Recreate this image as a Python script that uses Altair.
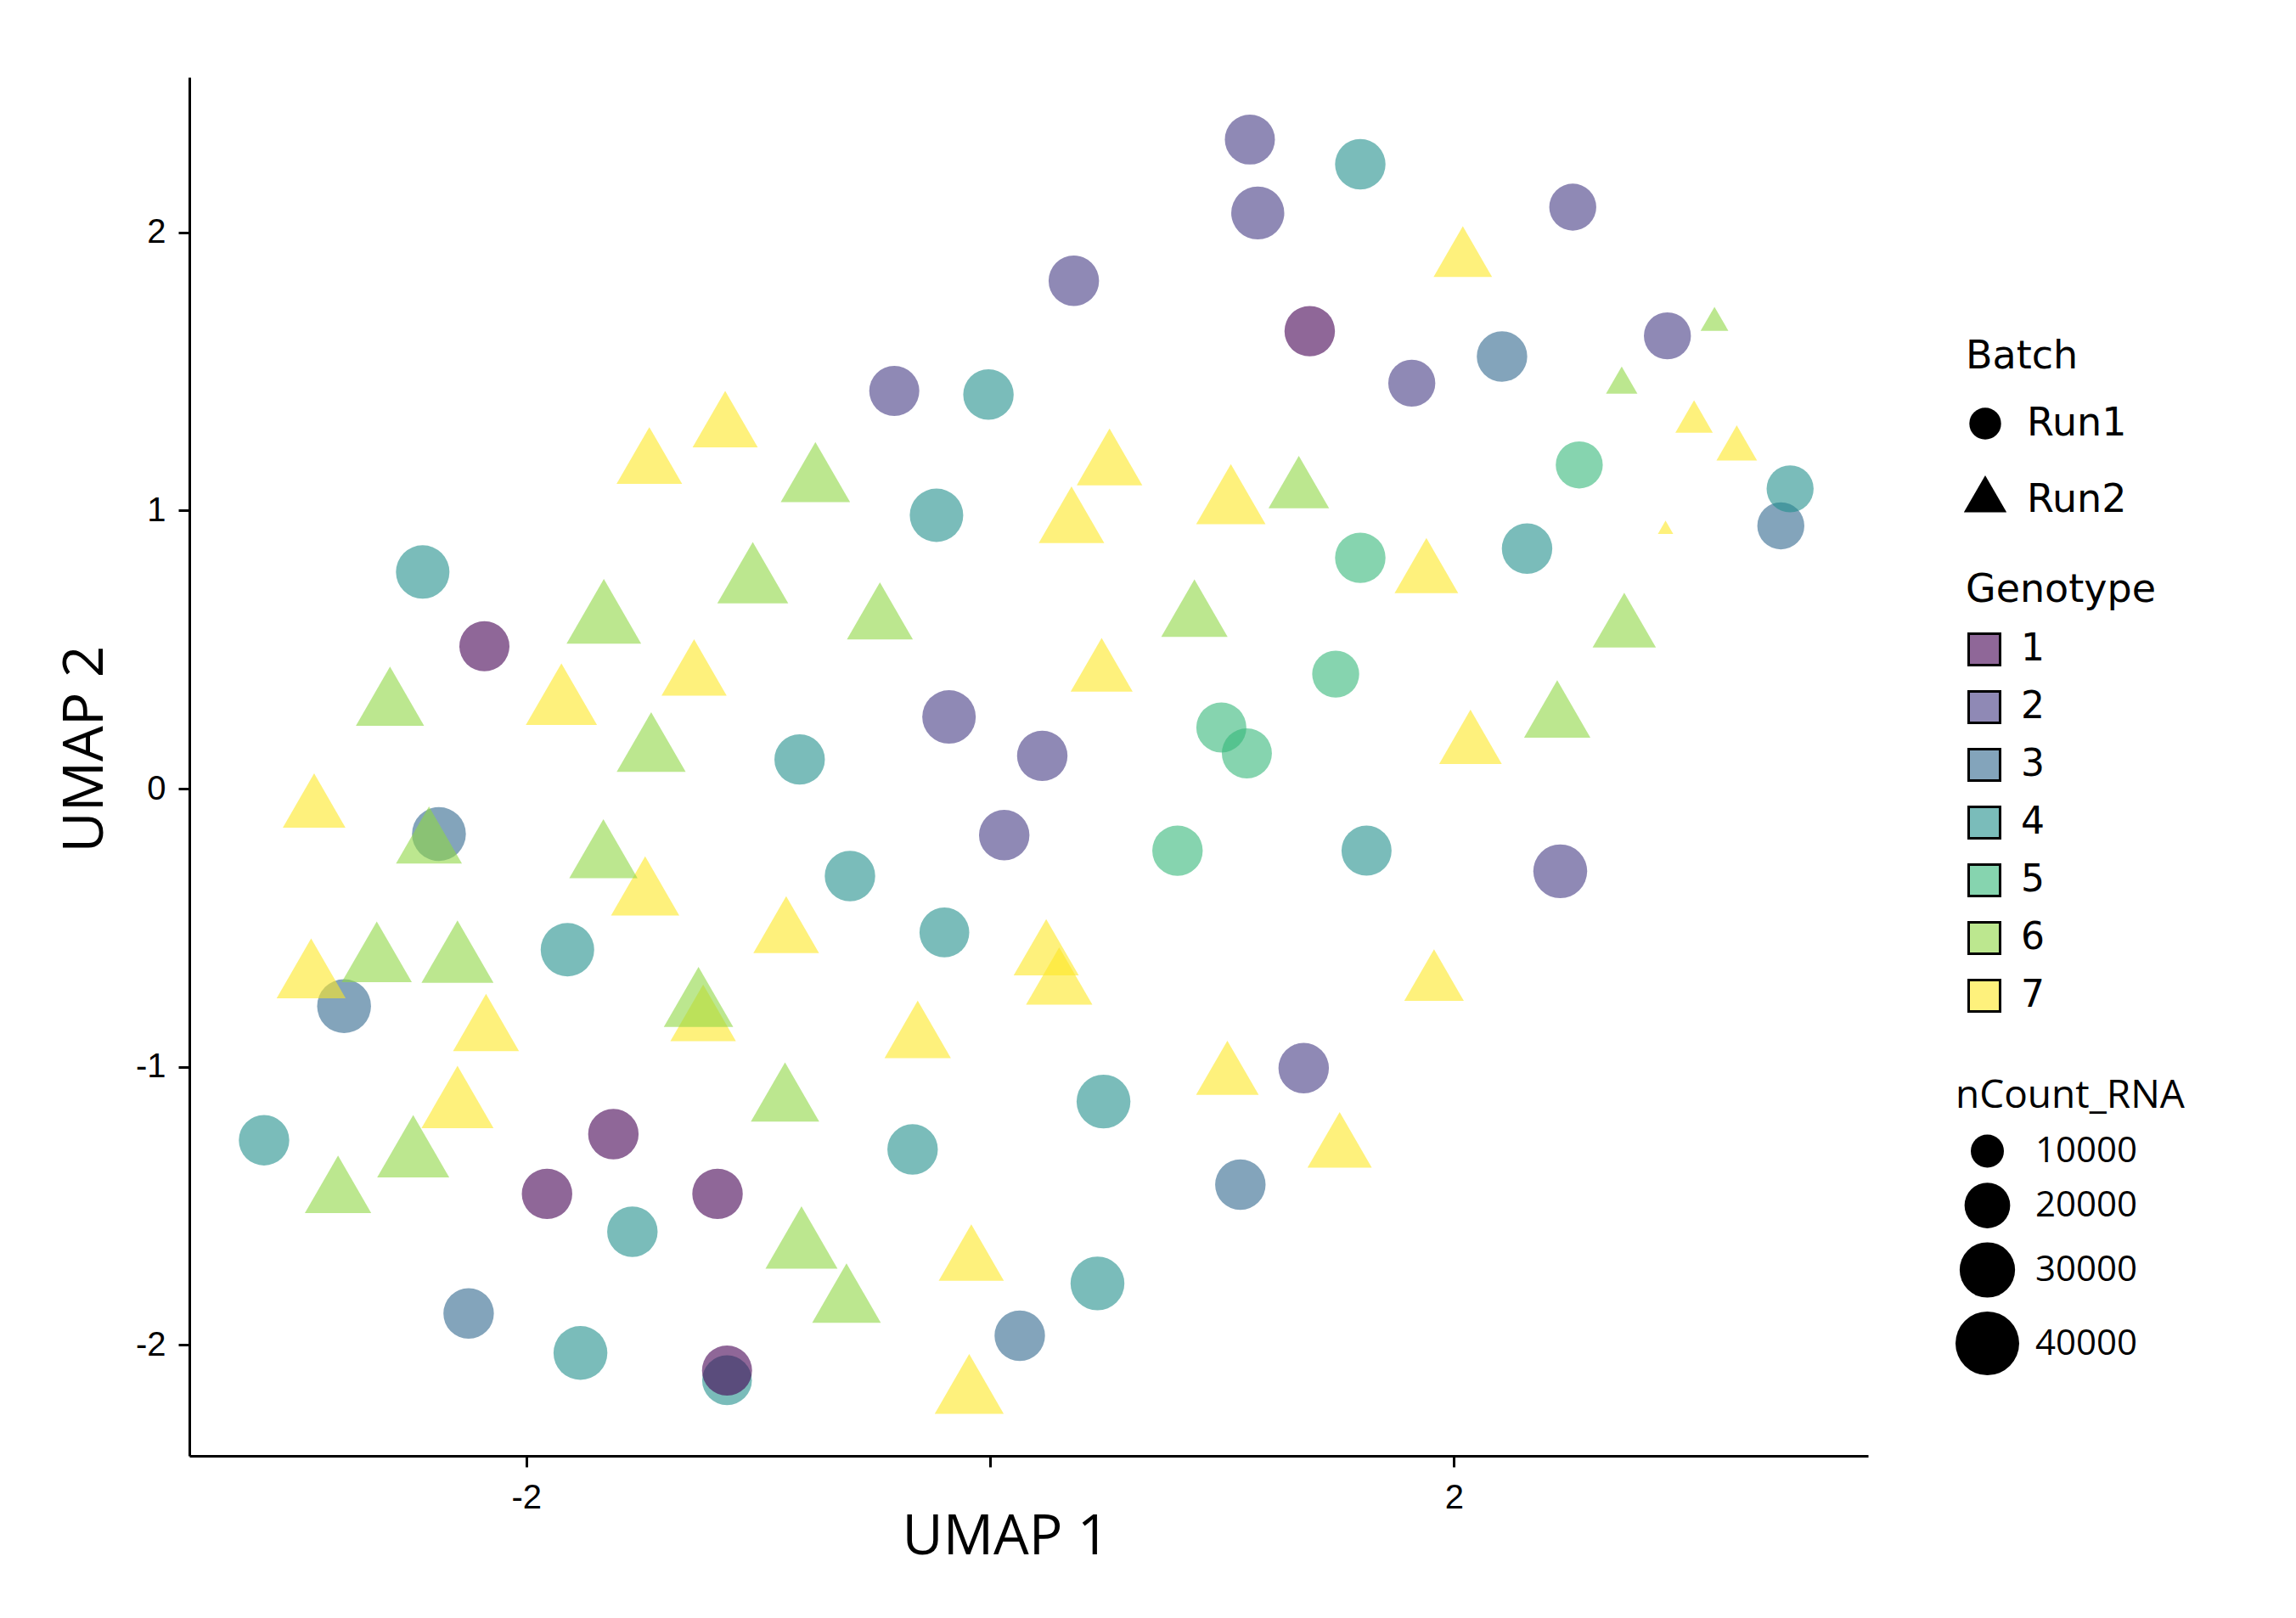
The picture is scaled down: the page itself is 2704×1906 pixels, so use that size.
import altair as alt
import pandas as pd

# ---- data ----
# Run1 (circles)
c_umap1 = [1.120, 1.596, 1.154, 2.512, 0.361, 1.378, 2.920, 1.818, 2.207, -0.413,
           -0.007, 3.409, 3.449, 2.540, -0.231, -2.446, 1.596, 2.315, -2.180, 1.490,
           -0.177, 0.225, -0.821, 0.997, 1.107, -2.376, 0.061, -0.604, 0.808, 1.623,
           2.458, -1.822, -0.197, -2.785, 1.352, 0.489, -3.130, -1.624, -1.910, -1.175,
           -0.334, 1.079, -1.542, -2.248, 0.128, 0.463, -1.766, -1.134, -1.134]
c_umap2 = [2.334, 2.245, 2.070, 2.091, 1.826, 1.645, 1.628, 1.458, 1.554, 1.430,
           1.417, 0.945, 1.078, 1.164, 0.983, 0.779, 0.830, 0.863, 0.512, 0.412,
           0.258, 0.118, 0.105, 0.220, 0.127, -0.163, -0.167, -0.314, -0.223, -0.223,
           -0.297, -0.579, -0.517, -0.782, -1.005, -1.125, -1.264, -1.242, -1.457, -1.457,
           -1.297, -1.424, -1.593, -1.887, -1.967, -1.779, -2.029, -2.127, -2.092]
c_geno = [2, 4, 2, 2, 2, 1, 2, 2, 3, 2,
          4, 3, 4, 5, 4, 4, 5, 4, 1, 5,
          2, 2, 4, 5, 5, 3, 2, 4, 5, 4,
          2, 4, 4, 3, 2, 4, 4, 1, 1, 1,
          4, 3, 4, 3, 3, 4, 4, 4, 1]
c_count = [24300, 24700, 27400, 21300, 24700, 24700, 21300, 21300, 24700, 24300,
           24700, 21300, 21300, 21300, 27900, 27900, 24700, 24700, 24300, 21300,
           27900, 24700, 24700, 24300, 24300, 28300, 24700, 24700, 24700, 24300,
           28300, 27900, 24000, 28300, 24700, 28300, 24700, 24700, 24700, 24700,
           24700, 24700, 24700, 24700, 24700, 28300, 28300, 24000, 24300]

# Run2 (triangles), genotype 7
y_umap1 = [2.038, -1.142, -1.469, 0.515, 0.351, 1.038, 1.881, -1.276, -1.848, 0.481,
           2.071, -2.914, -1.487, -0.879, -2.927, 0.242, 0.298, 1.914, -2.173, -1.237,
           -0.312, 1.023, -2.296, 1.507, -0.081, -0.090, 3.035, 3.219, 2.912]
y_umap2 = [1.901, 1.295, 1.164, 1.159, 0.951, 1.023, 0.769, 0.402, 0.303, 0.413,
           0.154, -0.075, -0.385, -0.523, -0.682, -0.604, -0.708, -0.701, -0.875, -0.840,
           -0.900, -1.036, -1.146, -1.296, -1.702, -2.176, 1.319, 1.222, 0.932]
y_count = [18000, 22600, 22900, 22900, 22900, 25800, 21500, 22600, 27200, 20400,
           20800, 20800, 24900, 23000, 25500, 22600, 23500, 18700, 23200, 22900,
           23500, 20800, 27900, 22000, 22600, 25500, 6700, 8100, 200]

# Run2 (triangles), genotype 6
g_umap1 = [-0.753, 1.331, -1.023, -1.665, -0.475, 0.881, 2.734, -2.587, -1.461, 2.445,
           -1.667, -2.419, -2.644, -2.296, -1.257, -0.884, -2.487, -2.811, -0.813, -0.619,
           3.123, 2.723]
g_umap2 = [1.102, 1.071, 0.740, 0.599, 0.605, 0.615, 0.573, 0.297, 0.132, 0.252,
           -0.251, -0.201, -0.623, -0.623, -0.785, -1.126, -1.323, -1.457, -1.651, -1.849,
           1.675, 1.453]
g_count = [25800, 19400, 27000, 30000, 23200, 23500, 21300, 24900, 25500, 23500,
           24900, 23200, 26400, 27900, 25800, 25000, 27900, 23500, 27900, 25200,
           3200, 4400]

genotype_levels = ["1", "2", "3", "4", "5", "6", "7"]
viridis7 = ["#440154", "#443A83", "#31688E", "#21908C", "#35B779", "#8FD744", "#FDE725"]
batch_levels = ["Run1", "Run2"]
size_ticks = [10000, 20000, 30000, 40000]
ALPHA = 0.6


def blend(hex_color, alpha):
    h = hex_color.lstrip("#")
    rgb = [int(h[i:i + 2], 16) for i in (0, 2, 4)]
    out = [round(c * alpha + 255 * (1 - alpha)) for c in rgb]
    return "#" + "".join(f"{c:02X}" for c in out)


legend_colors = [blend(c, ALPHA) for c in viridis7]

umap1 = c_umap1 + y_umap1 + g_umap1
umap2 = c_umap2 + y_umap2 + g_umap2
genotype = [str(g) for g in c_geno] + ["7"] * len(y_umap1) + ["6"] * len(g_umap1)
batch = ["Run1"] * len(c_umap1) + ["Run2"] * (len(y_umap1) + len(g_umap1))
ncount = c_count + y_count + g_count

df = pd.DataFrame({
    "UMAP_1": umap1,
    "UMAP_2": umap2,
    "Genotype": genotype,
    "Batch": batch,
    "nCount_RNA": ncount,
})

triangle = "M0,-1.555L-1.347,0.778L1.347,0.778Z"
legend_font = "DejaVu Sans"

xscale = alt.Scale(domain=[-3.452, 3.785], nice=False, zero=False)
yscale = alt.Scale(domain=[-2.399, 2.558], nice=False, zero=False)

xaxis = alt.Axis(title="UMAP 1", values=[-2, 0, 2],
                 labelExpr="datum.value === 0 ? '' : '' + datum.value",
                 labelPadding=16,
                 titleX=961, titleY=115, titleAlign="center",
                 titleBaseline="alphabetic")
yaxis = alt.Axis(title="UMAP 2", values=[-2, -1, 0, 1, 2],
                 labelExpr="'' + datum.value",
                 labelPadding=15,
                 titleX=-103, titleY=791, titleAlign="center",
                 titleAngle=270, titleBaseline="alphabetic")

points = alt.Chart(df).mark_point(filled=True, opacity=ALPHA, strokeWidth=0).encode(
    x=alt.X("UMAP_1:Q", scale=xscale, axis=xaxis),
    y=alt.Y("UMAP_2:Q", scale=yscale, axis=yaxis),
    color=alt.Color("Genotype:N",
                    scale=alt.Scale(domain=genotype_levels, range=viridis7),
                    legend=None),
    shape=alt.Shape("Batch:N",
                    scale=alt.Scale(domain=batch_levels, range=["circle", triangle]),
                    legend=alt.Legend(title="Batch", orient="none",
                                      legendX=2092, legendY=307, padding=0,
                                      symbolSize=1400, symbolFillColor="black",
                                      symbolStrokeWidth=0, symbolOpacity=1,
                                      titleLimit=600, labelLimit=400,
                                      titleFont=legend_font, titleFontSize=46,
                                      titleFontWeight="normal", titleColor="black",
                                      labelFont=legend_font, labelFontSize=46,
                                      labelColor="black",
                                      titlePadding=32, rowPadding=37, labelOffset=26)),
    size=alt.Size("nCount_RNA:Q",
                  scale=alt.Scale(domain=[10000, 40000], range=[1521, 5625], zero=False),
                  legend=alt.Legend(title="nCount_RNA", orient="none",
                                    legendX=2080, legendY=1178, padding=0,
                                    values=size_ticks, format="d",
                                    symbolType="circle",
                                    symbolFillColor="black", symbolStrokeWidth=0,
                                    symbolOpacity=1, titleLimit=600, labelLimit=400,
                                    titleFont="Open Sans", titleFontSize=46,
                                    titleFontWeight="normal", titleColor="black",
                                    labelFont="Open Sans", labelFontSize=42,
                                    labelColor="black",
                                    titlePadding=20, rowPadding=16, labelOffset=19)),
)

# Genotype key: one entry per level, drawn outside the clipped plot area so
# only its legend shows (translucent fill, solid black outline, as in ggplot).
key_df = pd.DataFrame({
    "GenotypeKey": genotype_levels,
    "UMAP_1": [-10.0] * len(genotype_levels),
    "UMAP_2": [0.0] * len(genotype_levels),
})
key = alt.Chart(key_df).mark_point(filled=True, shape="square", clip=True,
                                   opacity=1, size=10).encode(
    x=alt.X("UMAP_1:Q", scale=xscale, axis=xaxis),
    y=alt.Y("UMAP_2:Q", scale=yscale, axis=yaxis),
    fill=alt.Fill("GenotypeKey:N",
                  scale=alt.Scale(domain=genotype_levels, range=legend_colors),
                  legend=alt.Legend(title="Genotype", orient="none",
                                    legendX=2092, legendY=582, padding=0,
                                    symbolType="square", symbolSize=1369,
                                    symbolStrokeColor="black", symbolStrokeWidth=3,
                                    symbolOpacity=1,
                                    titleLimit=600, labelLimit=400,
                                    titleFont=legend_font, titleFontSize=46,
                                    titleFontWeight="normal", titleColor="black",
                                    labelFont=legend_font, labelFontSize=44,
                                    labelColor="black",
                                    titlePadding=24, rowPadding=18, labelOffset=21)),
)

chart = alt.layer(points, key).resolve_scale(
    color="independent", fill="independent"
).resolve_legend(
    color="independent", fill="independent"
).properties(
    width=1977,
    height=1624,
    padding={"left": 215, "top": 83, "right": 480, "bottom": 170},
    autosize=alt.AutoSizeParams(type="none"),
).configure_view(
    stroke=None
).configure_axis(
    grid=False,
    domainColor="black",
    domainWidth=3,
    tickColor="black",
    tickWidth=3,
    tickSize=13,
    labelColor="black",
    labelFont="Liberation Sans",
    labelFontSize=40,
    titleFont="Open Sans",
    titleFontSize=66,
    titleFontWeight="normal",
    titleColor="black",
)

chart.save("out.html", embed_options={"renderer": "svg", "actions": False})
